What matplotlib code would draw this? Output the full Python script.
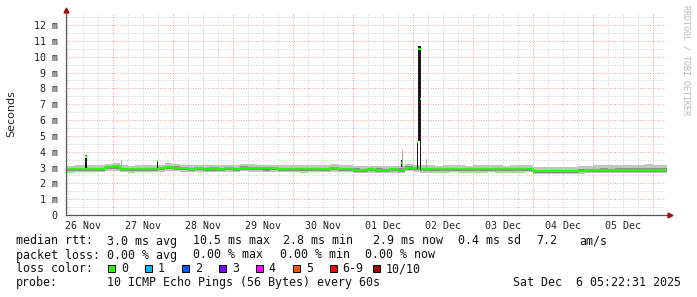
import matplotlib
matplotlib.use("Agg")
import matplotlib.pyplot as plt
import numpy as np
import pandas as pd
from matplotlib.patches import Rectangle

# --- data (ms), 3 hour samples starting 26 Nov 03:00 ---
t0 = "2025-11-26 03:00"
median = [2.88,
          2.88, 2.90, 2.92, 2.90, 2.93,
          3.05, 3.08,
          2.92, 2.88, 2.90, 2.92, 2.90,
          2.95, 3.05, 3.00,
          2.95, 2.93, 2.95, 2.92, 2.94, 2.92, 2.95, 2.93,
          3.00, 2.98, 2.96, 2.94, 2.95, 2.92, 2.93,
          2.92, 2.90, 2.93, 2.91, 2.92, 2.95, 2.93, 2.92,
          2.87, 2.86, 2.88, 2.87, 2.86, 2.88, 2.87,
          3.00, 2.95,
          2.90, 2.90, 2.88, 2.90, 2.92, 2.90, 2.88, 2.90, 2.90, 2.92, 2.90, 2.88, 2.90, 2.90, 2.92,
          2.78, 2.76, 2.78, 2.77, 2.76, 2.78, 2.80, 2.82,
          2.85, 2.86, 2.85, 2.87, 2.86, 2.85, 2.86, 2.87, 2.86, 2.86]
smoke_lo = [2.68,
            2.68, 2.70, 2.70, 2.69, 2.71,
            2.78, 2.80,
            2.70, 2.68, 2.69, 2.71, 2.70,
            2.72, 2.80, 2.76,
            2.72, 2.70, 2.72, 2.70, 2.71, 2.70, 2.72, 2.71,
            2.76, 2.74, 2.72, 2.71, 2.72, 2.70, 2.71,
            2.70, 2.68, 2.71, 2.69, 2.70, 2.72, 2.70, 2.70,
            2.65, 2.64, 2.66, 2.65, 2.64, 2.66, 2.65,
            2.76, 2.72,
            2.68, 2.68, 2.66, 2.68, 2.70, 2.68, 2.66, 2.68, 2.68, 2.70, 2.68, 2.66, 2.68, 2.68, 2.70,
            2.60, 2.58, 2.60, 2.59, 2.58, 2.60, 2.62, 2.63,
            2.64, 2.65, 2.64, 2.66, 2.65, 2.64, 2.65, 2.66, 2.65, 2.65]
smoke_hi = [3.10,
            3.12, 3.14, 3.15, 3.13, 3.16,
            3.25, 3.27,
            3.14, 3.12, 3.13, 3.15, 3.14,
            3.18, 3.26, 3.22,
            3.17, 3.15, 3.17, 3.14, 3.16, 3.14, 3.17, 3.15,
            3.22, 3.20, 3.18, 3.16, 3.18, 3.14, 3.15,
            3.15, 3.13, 3.16, 3.14, 3.15, 3.22, 3.16, 3.15,
            3.10, 3.09, 3.11, 3.10, 3.09, 3.12, 3.10,
            3.25, 3.18,
            3.14, 3.13, 3.11, 3.14, 3.16, 3.14, 3.12, 3.14, 3.14, 3.17, 3.14, 3.12, 3.14, 3.14, 3.16,
            3.04, 3.02, 3.04, 3.03, 3.02, 3.04, 3.07, 3.10,
            3.14, 3.16, 3.14, 3.18, 3.16, 3.15, 3.16, 3.20, 3.17, 3.16]

# short dark spikes: start, minutes, lo, hi, median
spike_t = ["2025-11-26 13:00", "2025-11-27 17:40", "2025-12-01 19:20",
           "2025-12-02 01:50", "2025-12-02 02:14", "2025-12-02 02:56"]
spike_min = [48, 30, 36, 24, 66, 24]
spike_lo = [2.98, 2.98, 3.05, 2.90, 4.70, 2.85]
spike_hi = [3.62, 3.35, 3.45, 4.70, 10.65, 4.80]
spike_med = [3.72, 3.42, 3.30, 4.60, 10.50, 7.35]
# thin light smoke spikes
wisp_t = ["2025-11-26 13:20", "2025-11-27 03:20", "2025-12-01 19:45", "2025-12-02 05:15"]
wisp_hi = [3.85, 3.50, 4.10, 3.55]

loss_labels = ["0", "1", "2", "3", "4", "5", "6-9", "10/10"]
loss_colors = ["#26ff00", "#00b8ff", "#0059ff", "#7e00ff", "#ff00ff", "#ff5500", "#ff0000", "#a00000"]

end = pd.Timestamp("2025-12-06 05:22:31")
start = end - pd.Timedelta(days=10)

W, H = 697, 297
fig = plt.figure(figsize=(W / 100, H / 100), dpi=100)
ax = fig.add_axes([66 / W, (H - 215) / H, 600 / W, 202 / H])
ax.set_xlim(start, end)
ax.set_ylim(0, 12.76)
for s in ax.spines.values():
    s.set_visible(False)

# grid
for y in np.arange(0.5, 12.76, 0.5):
    major = abs(y - round(y)) < 1e-6
    ax.axhline(y, color="#f0a0a0" if major else "#cfcfcf", lw=0.7,
               ls=(0, (1, 1.6)), zorder=0)
for d in pd.date_range("2025-11-26 06:00", end, freq="6h"):
    major = d.hour == 0
    ax.axvline(d, color="#f0a0a0" if major else "#cfcfcf", lw=0.7,
               ls=(0, (1, 1.6)), zorder=0)

# smoke and median
times = pd.date_range(t0, periods=len(median), freq="3h")
tx = list(times) + [times[-1] + pd.Timedelta(hours=3)]
med = np.array(median + [median[-1]])
lo = np.array(smoke_lo + [smoke_lo[-1]])
hi = np.array(smoke_hi + [smoke_hi[-1]])
ax.fill_between(tx, lo, hi, step="post", color="#c4c4c4", lw=0, zorder=2)
ax.fill_between(tx, med - (med - lo) * 0.6, med + (hi - med) * 0.3,
                step="post", color="#8a8a8a", lw=0, zorder=3)

for t, h in zip(wisp_t, wisp_hi):
    ts = pd.Timestamp(t)
    ax.vlines(ts, 2.9, h, color="#a8a8a8", lw=0.8, zorder=3)

ax.step(tx, med, where="post", color=loss_colors[0], lw=1.6, zorder=5)

for t, m, l, h, md in zip(spike_t, spike_min, spike_lo, spike_hi, spike_med):
    ts = pd.Timestamp(t)
    te = ts + pd.Timedelta(minutes=m)
    ax.fill_between([ts, te], [l, l], [h, h], color="#1a1a1a", lw=0, zorder=6)
    ax.hlines(md, ts, te, color=loss_colors[0], lw=1.5, zorder=7)

# ticks
noons = pd.date_range("2025-11-26 12:00", "2025-12-05 12:00", freq="1D")
ax.set_xticks(noons)
ax.set_xticklabels([d.strftime("%d %b") for d in noons])
ax.set_yticks(range(13))
ax.set_yticklabels(["0"] + ["%d m" % i for i in range(1, 13)])
ax.tick_params(length=0, labelsize=7.2, colors="#222222")
ax.tick_params(axis="y", pad=6)
ax.tick_params(axis="x", pad=4.5)
for lab in ax.get_xticklabels() + ax.get_yticklabels():
    lab.set_family("DejaVu Sans Mono")

# axes with arrows
ax.plot([0, 0], [0, 1.015], transform=ax.transAxes, color="#555555", lw=0.9,
        clip_on=False, zorder=8)
ax.plot([0, 1.006], [0, 0], transform=ax.transAxes, color="#555555", lw=0.9,
        clip_on=False, zorder=8)
ax.plot([0], [1.015], marker="^", ms=3.5, color="#a01010", transform=ax.transAxes,
        clip_on=False, zorder=9)
ax.plot([1.007], [0], marker=">", ms=3.5, color="#a01010", transform=ax.transAxes,
        clip_on=False, zorder=9)

fig.text(11 / W, 1 - 113.5 / H, "Seconds", rotation=90, ha="center", va="center",
         fontsize=8, family="DejaVu Sans", color="#222222")
fig.text(686 / W, 1 - 5 / H, "RRDTOOL / TOBI OETIKER", rotation=270, ha="center",
         va="top", fontsize=6, family="DejaVu Sans Mono", color="#b8b8b8")


def txt(x, y, s):
    fig.text(x / W, 1 - y / H, s, ha="left", va="center", fontsize=8.4,
             family="DejaVu Sans Mono", color="#111111")


txt(16, 241, "median rtt:")
txt(107, 241, "3.0 ms avg")
txt(193, 241, "10.5 ms max")
txt(283, 241, "2.8 ms min")
txt(372.7, 241, "2.9 ms now")
txt(458, 241, "0.4 ms sd")
txt(536.7, 241, "7.2")
txt(579, 241, "am/s")

txt(16, 255, "packet loss:")
txt(107, 255, "0.00 % avg")
txt(193, 255, "0.00 % max")
txt(280, 255, "0.00 % min")
txt(365, 255, "0.00 % now")

txt(16, 268.5, "loss color:")
box_x = [108.3, 145, 182.3, 219.3, 256, 293.3, 330, 372.7]
for bx, lab, col in zip(box_x, loss_labels, loss_colors):
    fig.patches.append(Rectangle((bx / W, 1 - 272 / H), 7 / W, 7 / H, facecolor=col,
                                 edgecolor="black", lw=0.7,
                                 transform=fig.transFigure, figure=fig))
    txt(bx + 12.5, 268.5, lab)

txt(16, 282.5, "probe:")
txt(107, 282.5, "10 ICMP Echo Pings (56 Bytes) every 60s")
txt(513.3, 282.5, "Sat Dec  6 05:22:31 2025")

fig.savefig("out.png", dpi=100, facecolor="white")
